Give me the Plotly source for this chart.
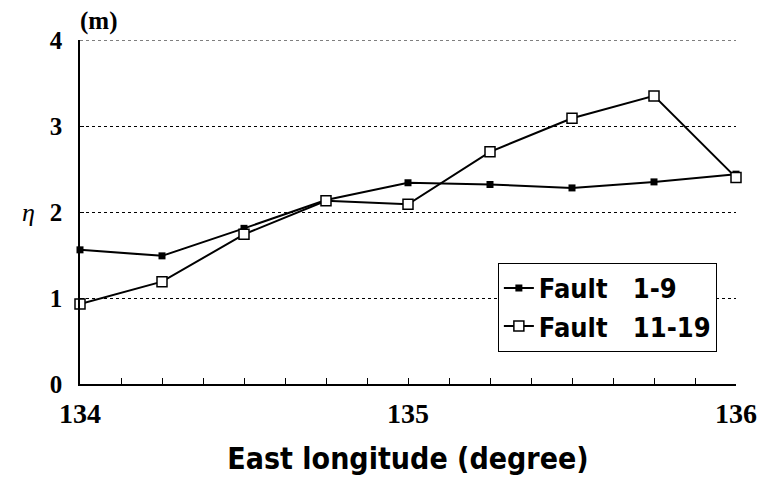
import plotly.graph_objects as go

# Longitude stations (degrees east)
longitude = [134.0, 134.25, 134.5, 134.75, 135.0, 135.25, 135.5, 135.75, 136.0]

# Wave height eta (m) for two fault groups
fault_1_9 = [1.56, 1.49, 1.81, 2.14, 2.34, 2.32, 2.28, 2.35, 2.44]
fault_11_19 = [0.93, 1.19, 1.74, 2.13, 2.09, 2.70, 3.09, 3.35, 2.40]

series_names = ["Fault\u00a0\u00a0\u00a01-9", "Fault\u00a0\u00a0\u00a011-19"]

# Axis ticks
x_tickvals = [134 + 0.125 * i for i in range(17)]
x_ticktext = ["134" if v == 134 else "135" if v == 135 else "136" if v == 136 else "" for v in x_tickvals]
y_tickvals = [0, 1, 2, 3, 4]
y_ticktext = ["0", "1", "2", "3", "4"]
y_max = 4

serif = "Liberation Serif, Times New Roman, serif"
narrow = "DejaVu Sans Condensed, DejaVu Sans, sans-serif"

fig = go.Figure()
fig.add_trace(go.Scatter(
    x=longitude, y=fault_1_9, name=series_names[0], mode="lines+markers",
    line=dict(color="black", width=2),
    marker=dict(symbol="square", size=7, color="black"),
    cliponaxis=False,
))
fig.add_trace(go.Scatter(
    x=longitude, y=fault_11_19, name=series_names[1], mode="lines+markers",
    line=dict(color="black", width=2),
    marker=dict(symbol="square", size=10, color="white", line=dict(color="black", width=1.5)),
    cliponaxis=False,
))

# Dotted gridline along the top of the plotting area
fig.add_shape(type="line", xref="paper", yref="y", x0=0, x1=1, y0=y_max, y1=y_max,
              line=dict(color="black", width=1.2, dash="dot"), layer="below")

fig.update_layout(
    width=757, height=483,
    margin=dict(l=80, r=21, t=40, b=99),
    paper_bgcolor="white", plot_bgcolor="white",
    showlegend=True,
    legend=dict(
        x=0.637, y=0.352, xanchor="left", yanchor="top",
        bordercolor="black", borderwidth=1, bgcolor="white",
        font=dict(family=narrow, size=27, color="black", weight="bold"),
        itemwidth=30, tracegroupgap=0,
    ),
    xaxis=dict(
        range=[134, 136], tickvals=x_tickvals, ticktext=x_ticktext,
        ticks="inside", ticklen=6, tickcolor="black", tickwidth=1,
        showline=True, linecolor="black", linewidth=1.5,
        showgrid=False, zeroline=False, automargin=False,
        ticklabelstandoff=4,
        tickfont=dict(family=serif, size=28, color="black", weight="bold"),
        title=dict(text="East longitude (degree)", standoff=20,
                   font=dict(family=narrow, size=30, color="black", weight="bold")),
    ),
    yaxis=dict(
        range=[0, y_max], tickvals=y_tickvals, ticktext=y_ticktext,
        ticks="inside", ticklen=4, tickcolor="black",
        showline=True, linecolor="black", linewidth=1.5,
        showgrid=True, gridcolor="black", gridwidth=1.2, griddash="dot",
        zeroline=False, automargin=False,
        ticklabelstandoff=11,
        tickfont=dict(family=serif, size=25, color="black", weight="bold"),
    ),
    annotations=[
        dict(text="(m)", xref="paper", yref="paper", x=0.028, y=1.055,
             showarrow=False, xanchor="center", yanchor="middle",
             font=dict(family=serif, size=25, color="black", weight="bold")),
        dict(text="<i>η</i>", xref="paper", yref="paper", x=-0.079, y=0.5,
             showarrow=False, xanchor="center", yanchor="middle",
             font=dict(family=serif, size=26, color="black")),
    ],
)

fig.write_html("out.html")
